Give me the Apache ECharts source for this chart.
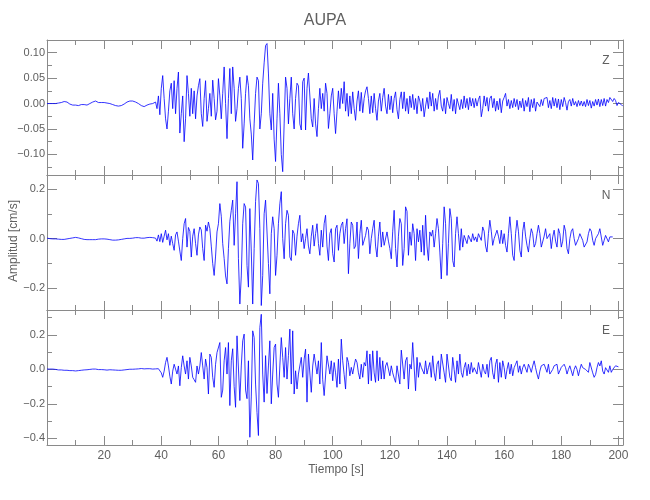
<!DOCTYPE html>
<html><head><meta charset="utf-8">
<script src="https://cdn.jsdelivr.net/npm/echarts@6/dist/echarts.min.js"></script>
<style>html,body{margin:0;padding:0;background:#fff}#c{width:650px;height:500px}</style>
</head><body><div id="c"></div>
<script>
// ---- data (seconds, cm/s) ----
const sampleStep = 0.5;
const timeMin = 0;
const timeMax = 201.6;

const zValues = [
0.000,0.001,0.000,-0.001,0.000,0.001,0.000,-0.001,0.001,0.000,
0.002,0.003,0.004,0.005,0.003,0.001,-0.001,-0.002,-0.003,-0.002,
-0.003,-0.002,-0.004,-0.003,-0.002,-0.003,-0.002,-0.004,-0.003,-0.001,
0.000,0.002,0.003,0.004,0.005,0.003,0.002,0.001,0.002,0.001,
0.002,0.001,0.001,0.000,0.000,-0.001,-0.002,-0.003,-0.004,-0.004,
-0.005,-0.005,-0.004,-0.003,-0.001,0.001,0.003,0.004,0.005,0.005,
0.005,0.004,0.003,0.001,0.000,-0.002,-0.004,-0.005,-0.006,-0.005,
-0.003,-0.002,-0.001,-0.001,0.000,0.001,
0.003,-0.010,0.015,-0.022,0.030,0.055,0.010,-0.030,-0.050,-0.015,
0.025,0.040,-0.010,0.045,-0.020,0.030,0.062,-0.058,-0.020,0.015,
-0.075,-0.030,0.055,0.020,-0.025,0.030,-0.020,0.025,-0.030,0.015,
0.035,0.049,-0.020,-0.045,0.010,0.045,-0.035,-0.010,0.020,-0.025,
0.046,0.010,-0.032,-0.015,0.049,0.015,-0.030,0.020,0.072,0.000,
-0.069,0.010,0.069,-0.020,0.072,0.030,-0.035,-0.010,0.030,0.052,
0.010,-0.088,-0.040,0.020,0.055,0.035,-0.030,-0.060,-0.111,-0.040,
0.020,0.052,0.045,-0.050,-0.020,0.040,0.080,0.114,0.118,0.060,
-0.020,-0.052,0.020,-0.070,-0.114,-0.030,0.040,-0.020,-0.100,-0.134,
-0.040,0.052,0.030,-0.040,0.010,0.052,-0.020,-0.050,0.010,0.040,
0.035,-0.040,-0.052,0.043,0.050,-0.052,0.030,0.060,0.059,-0.030,
-0.046,0.010,-0.040,-0.065,-0.010,0.030,-0.010,0.020,-0.015,0.040,
0.020,-0.049,-0.020,0.015,0.030,-0.020,-0.059,-0.015,0.025,-0.010,
0.030,0.000,0.043,-0.015,0.020,-0.025,0.015,-0.020,0.023,-0.010,
-0.033,0.005,0.025,-0.015,0.022,-0.018,0.010,0.025,0.033,0.010,
-0.020,0.015,-0.018,0.020,-0.010,-0.033,0.005,0.020,-0.015,0.012,
0.030,-0.005,-0.020,0.018,-0.012,0.015,-0.018,0.010,0.023,-0.012,
-0.030,0.008,0.023,-0.010,0.023,-0.015,0.010,-0.020,0.015,-0.008,
0.018,-0.012,0.010,-0.020,0.015,0.005,-0.015,0.010,-0.026,-0.005,
0.012,-0.010,0.023,-0.005,0.020,-0.015,0.010,-0.012,0.015,0.026,
-0.005,-0.015,0.010,-0.020,0.012,0.000,-0.010,0.018,-0.015,0.008,
-0.020,0.010,0.012,-0.012,0.008,-0.010,0.015,-0.008,0.010,-0.012,
0.012,-0.005,0.010,-0.008,0.010,-0.005,0.008,0.015,-0.026,-0.010,
0.015,-0.005,0.012,-0.015,0.010,0.015,-0.008,0.010,-0.015,0.005,
-0.012,0.010,-0.018,0.005,0.012,0.020,-0.005,0.008,-0.010,0.006,
-0.008,0.010,-0.006,0.008,-0.012,0.005,-0.008,0.010,-0.015,0.006,
-0.006,0.012,-0.016,0.008,-0.008,0.010,-0.015,0.003,0.004,-0.006,
0.008,-0.004,0.010,0.013,0.012,-0.008,0.006,-0.010,0.012,-0.005,
0.010,-0.008,0.009,-0.012,0.008,-0.006,0.012,0.002,-0.013,0.004,
0.008,-0.005,0.010,-0.003,0.004,-0.006,0.006,-0.004,0.005,-0.005,
0.004,-0.006,0.008,-0.004,0.006,-0.009,0.004,-0.005,0.008,-0.003,
0.009,-0.006,0.008,-0.004,0.010,-0.005,0.008,0.002,0.012,0.013,
0.004,0.010,0.006,-0.004,0.002,0.004,-0.002,-0.005
];

const nValues = [
0.002,0.001,0.000,0.001,-0.001,-0.002,-0.001,0.000,-0.002,-0.003,
-0.003,-0.002,-0.003,-0.002,-0.001,0.000,0.001,0.002,0.003,0.004,
0.005,0.004,0.003,0.001,0.000,-0.002,-0.003,-0.004,-0.004,-0.003,
-0.004,-0.003,-0.004,-0.005,-0.004,-0.003,-0.002,-0.003,-0.001,0.000,
-0.001,0.000,-0.002,-0.003,-0.004,-0.005,-0.006,-0.005,-0.006,-0.004,
-0.005,-0.004,-0.003,-0.002,-0.001,0.000,0.001,0.002,0.001,0.003,
0.002,0.003,0.004,0.005,0.004,0.003,0.002,0.001,0.002,0.003,
0.004,0.006,0.005,0.003,0.004,0.002,
0.002,-0.010,0.015,-0.012,0.020,-0.015,0.010,0.034,-0.005,0.020,
-0.027,0.010,-0.020,-0.047,0.015,0.027,-0.010,-0.050,-0.088,0.000,
0.060,0.081,-0.034,0.045,0.030,-0.074,0.010,0.040,-0.020,-0.067,
0.015,0.047,0.035,-0.040,-0.088,0.054,0.030,0.067,0.040,-0.030,
-0.100,-0.148,-0.070,0.027,0.060,0.141,0.090,-0.020,-0.080,-0.150,
-0.182,-0.040,0.070,0.114,0.155,-0.027,0.100,0.229,-0.080,-0.263,
-0.150,0.060,0.141,0.127,-0.108,-0.195,0.121,-0.050,-0.263,-0.040,
0.150,0.236,0.222,0.040,-0.269,-0.148,0.100,0.155,0.150,-0.100,
-0.222,0.020,0.088,0.040,-0.148,-0.067,0.060,0.140,0.189,0.000,
-0.081,0.060,0.114,0.094,-0.074,-0.088,0.034,0.020,-0.067,0.010,
0.060,0.094,-0.013,0.020,-0.040,0.000,0.040,-0.030,-0.061,0.010,
0.054,-0.030,0.020,0.060,-0.020,-0.067,0.034,-0.034,0.060,0.094,
-0.030,-0.088,0.020,0.040,-0.060,-0.094,0.040,0.054,-0.047,0.020,
0.054,0.067,-0.020,0.040,0.080,-0.141,-0.020,0.067,0.054,-0.040,
-0.030,0.067,-0.080,0.020,0.074,-0.027,-0.034,0.013,0.047,0.034,
-0.061,0.000,0.040,0.074,-0.030,-0.074,0.010,0.067,-0.034,0.027,
-0.027,-0.034,0.027,-0.010,-0.040,-0.081,0.030,0.114,-0.040,-0.114,
0.010,0.081,0.060,-0.108,-0.040,0.128,0.110,-0.067,0.027,-0.027,
0.060,0.020,-0.088,0.040,-0.013,0.034,-0.054,0.054,-0.067,0.094,
-0.030,-0.088,0.027,0.010,0.034,-0.034,0.020,0.081,0.040,-0.054,
-0.162,-0.020,0.128,0.060,-0.148,-0.020,0.121,0.080,-0.088,-0.114,
0.020,0.088,0.020,-0.047,0.040,-0.034,0.013,0.020,-0.020,0.013,
0.007,-0.013,0.020,-0.007,0.007,-0.013,0.020,0.027,-0.007,0.047,
0.030,-0.030,-0.054,0.020,0.074,0.030,-0.027,0.000,-0.007,0.034,
0.010,-0.020,0.034,-0.020,0.020,-0.027,-0.054,0.020,0.088,0.020,
-0.067,-0.088,0.020,0.074,0.030,-0.047,-0.074,0.030,0.067,0.010,
-0.027,-0.054,0.000,0.040,0.020,-0.034,-0.020,0.020,0.054,0.020,
-0.034,-0.040,0.010,0.040,0.000,-0.007,0.020,-0.040,0.007,0.034,
-0.010,-0.034,0.040,0.020,-0.034,-0.010,0.054,0.030,-0.040,-0.061,
0.000,0.030,0.040,0.000,-0.027,-0.034,0.000,0.020,0.013,-0.007,
-0.034,-0.040,-0.013,0.020,0.040,0.030,-0.007,-0.027,0.000,0.007,
0.020,0.040,0.034,-0.027,-0.007,0.013,0.007,-0.013,0.007,0.000,
0.007
];

const eValues = [
0.002,0.003,0.002,0.001,0.002,0.001,0.000,-0.002,-0.003,-0.004,
-0.003,-0.004,-0.005,-0.006,-0.005,-0.006,-0.007,-0.008,-0.007,-0.008,
-0.009,-0.008,-0.007,-0.006,-0.005,-0.004,-0.003,-0.002,-0.002,-0.001,
0.000,0.001,0.002,0.001,0.002,0.000,-0.001,-0.002,-0.001,-0.003,
-0.002,-0.003,-0.004,-0.003,-0.002,-0.004,-0.003,-0.005,-0.004,-0.006,
-0.005,-0.006,-0.005,-0.004,-0.003,-0.002,-0.001,0.000,0.001,0.002,
0.001,0.003,0.002,0.004,0.003,0.004,0.005,0.004,0.003,0.005,
0.004,0.003,0.004,0.003,0.002,0.004,
0.003,0.002,0.004,0.000,-0.020,-0.046,-0.010,0.040,0.070,0.020,
-0.040,-0.085,-0.010,0.030,0.040,-0.027,0.020,-0.095,0.010,0.079,
0.020,-0.027,0.050,-0.056,0.070,0.020,-0.046,-0.060,-0.075,0.020,
-0.027,0.020,0.098,0.020,-0.056,0.060,0.010,-0.143,0.089,0.070,
-0.046,-0.104,0.030,0.098,0.089,0.156,-0.162,-0.120,0.050,0.127,
-0.027,0.156,-0.210,0.050,0.120,-0.100,-0.220,0.195,0.205,-0.181,
0.020,0.166,0.205,-0.120,-0.170,0.050,-0.394,-0.160,0.224,0.185,
-0.085,-0.250,-0.384,0.243,0.320,-0.027,-0.190,0.080,-0.140,0.020,
0.166,-0.200,-0.027,0.127,0.147,-0.085,-0.162,0.020,0.185,0.070,
-0.046,0.127,-0.056,0.080,0.234,-0.085,0.224,-0.143,-0.008,-0.114,
-0.027,-0.027,0.070,-0.046,0.060,0.118,-0.190,0.089,0.079,-0.133,
0.020,0.089,0.098,-0.027,0.050,-0.085,0.156,-0.060,-0.152,-0.162,
0.079,0.089,-0.027,0.050,-0.066,0.040,-0.020,-0.104,0.060,-0.085,
0.176,0.050,-0.030,-0.114,0.070,0.040,-0.037,0.012,-0.027,0.020,
0.060,0.040,-0.020,-0.056,0.030,-0.046,0.040,0.020,0.108,-0.085,
0.089,-0.066,0.108,-0.020,-0.075,0.108,-0.066,0.070,-0.056,0.050,
-0.056,0.020,0.040,0.040,-0.037,0.021,-0.020,-0.050,-0.075,0.021,
0.012,-0.085,0.112,0.108,-0.056,0.050,0.070,-0.114,0.030,0.002,
0.156,0.166,-0.124,0.070,-0.046,0.040,0.012,0.021,-0.027,0.050,
-0.027,0.010,0.040,-0.046,0.079,-0.020,-0.066,0.030,0.050,-0.056,
0.089,0.079,-0.020,-0.075,0.089,0.089,-0.046,-0.066,0.070,0.000,
-0.075,0.050,-0.027,0.089,-0.017,-0.046,0.010,0.040,-0.037,0.030,
-0.027,0.040,-0.017,0.010,0.021,-0.027,0.040,0.030,-0.046,0.030,
-0.010,-0.027,0.030,-0.046,0.050,0.070,-0.020,-0.056,0.030,0.060,
-0.075,0.040,-0.046,0.050,0.010,-0.056,0.000,0.040,-0.027,0.030,
-0.037,0.010,0.030,0.050,-0.017,0.021,-0.027,0.010,0.030,0.040,
-0.017,0.030,0.010,-0.017,0.020,0.050,0.010,-0.027,-0.056,-0.010,
0.021,0.010,0.030,0.020,-0.017,0.030,-0.027,-0.037,0.000,0.021,
0.020,0.030,-0.027,-0.037,0.012,0.010,0.030,0.010,-0.027,0.000,
0.021,0.021,-0.037,0.000,0.021,0.000,-0.037,0.000,0.030,0.010,
0.021,0.000,-0.010,-0.017,0.040,0.030,-0.020,-0.046,-0.030,0.010,
0.040,0.020,0.050,-0.010,-0.027,0.010,0.021,-0.017,0.021,-0.017,
0.000,0.010,0.021,0.030,0.015
];

// axis ticks / labels
const timeTicks = [0,20,40,60,80,100,120,140,160,180,200];
const timeLabels = [20,40,60,80,100,120,140,160,180,200];
const timeMinorTicks = [10,30,50,70,90,110,130,150,170,190];
const zTicks = [-0.10,-0.05,0.00,0.05,0.10];
const zMinorTicks = [-0.125,-0.075,-0.025,0.025,0.075];
const zRange = [-0.1405, 0.125];
const nTicks = [-0.2,0.0,0.2];
const nMinorTicks = [-0.1,0.1];
const nRange = [-0.287, 0.256];
const eTicks = [-0.4,-0.2,0.0,0.2];
const eMinorTicks = [-0.3,-0.1,0.1,0.3];
const eRange = [-0.439, 0.345];
const componentNames = ['Z','N','E'];
const titleText = 'AUPA';
const xName = 'Tiempo [s]';
const yName = 'Amplitud [cm/s]';

// ---- chart ----
const axisColor = '#8a8a8a';
const textColor = '#606060';
const font = "'Liberation Sans', Arial, sans-serif";
const panels = [
  {values:zValues, ticks:zTicks, minor:zMinorTicks, range:zRange, digits:2, top:40},
  {values:nValues, ticks:nTicks, minor:nMinorTicks, range:nRange, digits:1, top:175},
  {values:eValues, ticks:eTicks, minor:eMinorTicks, range:eRange, digits:1, top:310}
];
const fmtY = d => v => (v < -1e-9 ? '\u2212' : '') + Math.abs(v).toFixed(d);

const grids = [], xAxes = [], yAxes = [], series = [], graphics = [];
panels.forEach((p, i) => {
  grids.push({left:47, width:576, top:p.top, height:135});
  const xBase = xAxes.length;
  ['bottom','top'].forEach(pos => {
    xAxes.push({gridIndex:i, type:'value', position:pos, min:timeMin, max:timeMax,
      axisLine:{show:true, onZero:false, lineStyle:{color:axisColor, width:1}},
      axisTick:{show:true, inside:true, length:9, customValues:timeTicks, lineStyle:{color:axisColor}},
      axisLabel:{show:(pos === 'bottom' && i === 2), customValues:timeLabels, margin:5,
        color:textColor, fontSize:12, fontFamily:font},
      splitLine:{show:false}});
    xAxes.push({gridIndex:i, type:'value', position:pos, min:timeMin, max:timeMax,
      axisLine:{show:false, onZero:false},
      axisTick:{show:true, inside:true, length:5, customValues:timeMinorTicks, lineStyle:{color:axisColor}},
      axisLabel:{show:false}, splitLine:{show:false}});
  });
  const yBase = yAxes.length;
  ['left','right'].forEach(pos => {
    yAxes.push({gridIndex:i, type:'value', position:pos, min:p.range[0], max:p.range[1],
      axisLine:{show:true, onZero:false, lineStyle:{color:axisColor, width:1}},
      axisTick:{show:true, inside:true, length:10, customValues:p.ticks, lineStyle:{color:axisColor}},
      axisLabel:{show:pos === 'left', customValues:p.ticks, margin:2, formatter:fmtY(p.digits),
        color:textColor, fontSize:11, fontFamily:font},
      splitLine:{show:false}});
    yAxes.push({gridIndex:i, type:'value', position:pos, min:p.range[0], max:p.range[1],
      axisLine:{show:false, onZero:false},
      axisTick:{show:true, inside:true, length:5, customValues:p.minor, lineStyle:{color:axisColor}},
      axisLabel:{show:false}, splitLine:{show:false}});
  });
  series.push({type:'line', xAxisIndex:xBase, yAxisIndex:yBase,
    data:p.values.map((v, k) => [timeMin + k * sampleStep, v]),
    showSymbol:false, symbol:'none', silent:true, animation:false,
    lineStyle:{color:'#0000ff', width:0.8}});
  graphics.push({type:'text', x:606, y:[61, 196, 331][i],
    style:{text:componentNames[i], fill:textColor, font:'12px ' + font, textAlign:'center', textVerticalAlign:'middle'}});
});
graphics.push({type:'text', x:325, y:21,
  style:{text:titleText, fill:textColor, font:'16px ' + font, textAlign:'center', textVerticalAlign:'middle'}});
graphics.push({type:'text', x:336, y:470,
  style:{text:xName, fill:textColor, font:'12px ' + font, textAlign:'center', textVerticalAlign:'middle'}});
graphics.push({type:'text', x:14, y:241, rotation:Math.PI/2,
  style:{text:yName, fill:textColor, font:'12px ' + font, textAlign:'center', textVerticalAlign:'middle'}});

const chart = echarts.init(document.getElementById('c'), null, {renderer:'canvas'});
chart.setOption({
  animation:false,
  backgroundColor:'#ffffff',
  grid:grids, xAxis:xAxes, yAxis:yAxes, series:series, graphic:graphics
});
</script>
</body></html>
